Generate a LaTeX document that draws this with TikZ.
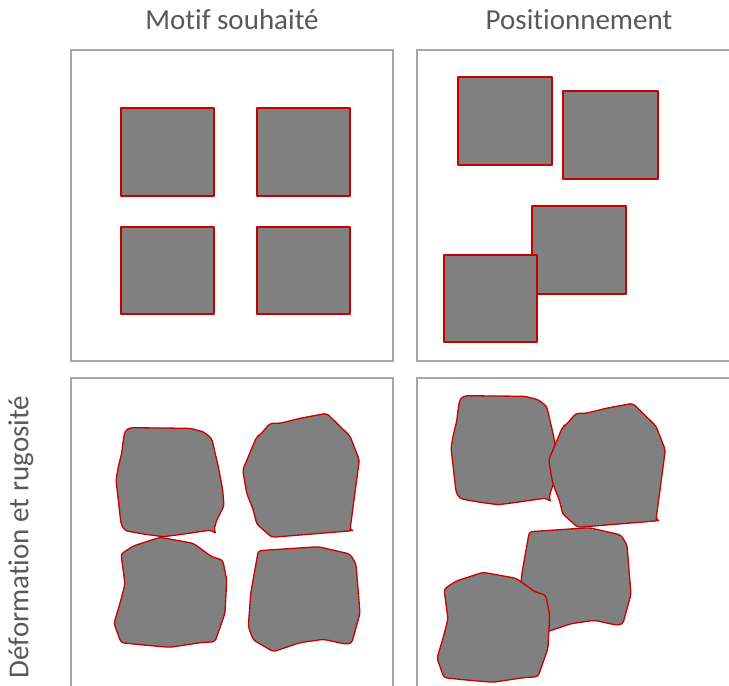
\documentclass[tikz,border=0pt]{standalone}
\usepackage{fontspec}
\setmainfont{Carlito}[Ligatures=NoCommon]
\usepackage{xcolor}
\usepackage{tikz}
\definecolor{framegray}{HTML}{A6A6A6}
\definecolor{textgray}{HTML}{595959}
\definecolor{motifgray}{HTML}{808080}
\definecolor{motifred}{HTML}{C80000}
\tikzset{
  panel/.style={draw=framegray,line width=1.5pt},
  motif/.style={draw=motifred,fill=motifgray,line width=1.3pt,line join=round},
  blob/.style={motif,rounded corners=3pt},
  heading/.style={text=textgray,font=\fontsize{29}{33}\selectfont,inner sep=0pt}
}
% deformed motifs, traced in pixel units
\newcommand{\blobA}{(123.3,440) -- (125,430.7) -- (130,427.7) -- (190,428.3) -- (203.3,431.7) -- (211.7,438.3) -- (218.3,466.7) -- (222.7,490) -- (224,506) -- (216.7,520) -- (214,530) -- (216,534.3) -- (211.7,530) -- (176.7,535) -- (163.3,536.7) -- (143.3,534) -- (125,530.7) -- (121,524) -- (118.3,500) -- (116,480) -- (118.3,466.7) -- (121.7,453.3) -- cycle}
\newcommand{\blobB}{(256.7,436.7) -- (260,435) -- (270,423.3) -- (280,423.3) -- (300,418.3) -- (326.7,413.3) -- (350,436) -- (359.3,460) -- (350,530) -- (352.7,530.7) -- (271.7,537.3) -- (256.7,524) -- (253.3,510) -- (246.7,493.3) -- (242.7,470) -- cycle}
\newcommand{\blobC}{(121,554) -- (133.3,546) -- (160,537.3) -- (193.3,543.3) -- (211.7,556.7) -- (222.7,560) -- (226.7,580) -- (225,613.3) -- (215,641.7) -- (200,642.7) -- (170,647.3) -- (143.3,645) -- (121,642.7) -- (114,623.3) -- (120,603.3) -- (125,584) -- cycle}
\newcommand{\blobD}{(258.3,550.7) -- (318.3,546.7) -- (350,554) -- (356,564) -- (360,613.3) -- (351.7,643.3) -- (345,644) -- (323.3,639.3) -- (300,642.7) -- (273.3,651.7) -- (253.3,640) -- (248.3,626.7) -- (250.7,593.3) -- cycle}

\begin{document}
\begin{tikzpicture}[x=1pt,y=-1pt]
  \fill[white] (0,0) rectangle (729,686);
  \useasboundingbox (0,0) rectangle (729,686);
  \clip (0,0) rectangle (729,686);

  % headings
  \node[heading] (wanted) at (232,20) {Motif souhaité};
  \node[heading] (placing) at (579,20) {Positionnement};
  \node[heading,rotate=90] (rough) at (21,537) {Déformation et rugosité};

  % frames
  \draw[panel] (71,50) rectangle (393,361);
  \draw[panel] (417,50) rectangle (745,361);
  \draw[panel] (71,378) rectangle (393,700);
  \draw[panel] (417,378) rectangle (745,700);

  % desired pattern
  \draw[motif] (121,108) rectangle (214,196);
  \draw[motif] (257,108) rectangle (350,196);
  \draw[motif] (121,227) rectangle (214,314);
  \draw[motif] (257,227) rectangle (350,314);

  % positioning error
  \draw[motif] (458,77) rectangle (552,165);
  \draw[motif] (563,91) rectangle (658,179);
  \draw[motif] (532,206) rectangle (626,294);
  \draw[motif] (444,255) rectangle (537,342);

  % deformation and roughness
  \draw[blob] \blobA;
  \draw[blob] \blobB;
  \draw[blob] \blobD;
  \draw[blob] \blobC;

  % both effects
  \draw[blob,shift={(335,-32)}] \blobA;
  \draw[blob,shift={(306,-10)}] \blobB;
  \draw[blob,shift={(271,-19)}] \blobD;
  \draw[blob,shift={(323,35)}] \blobC;
\end{tikzpicture}
\end{document}
